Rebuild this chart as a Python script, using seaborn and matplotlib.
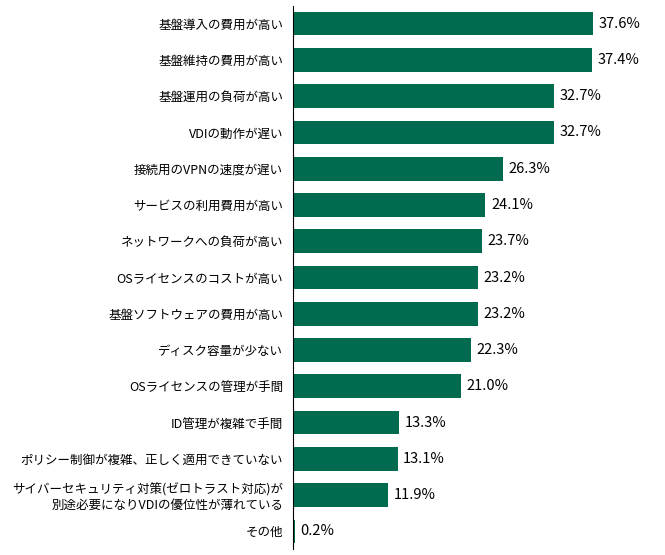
import matplotlib
matplotlib.use("Agg")
import matplotlib.pyplot as plt
import seaborn as sns
import pandas as pd

categories = ["基盤導入の費用が高い", "基盤維持の費用が高い", "基盤運用の負荷が高い", "VDIの動作が遅い",
              "接続用のVPNの速度が遅い", "サービスの利用費用が高い", "ネットワークへの負荷が高い",
              "OSライセンスのコストが高い", "基盤ソフトウェアの費用が高い", "ディスク容量が少ない",
              "OSライセンスの管理が手間", "ID管理が複雑で手間", "ポリシー制御が複雑、正しく適用できていない",
              "サイバーセキュリティ対策(ゼロトラスト対応)が\n別途必要になりVDIの優位性が薄れている", "その他"]
values = [37.6, 37.4, 32.7, 32.7, 26.3, 24.1, 23.7, 23.2, 23.2, 22.3, 21.0, 13.3, 13.1, 11.9, 0.2]

plt.rcParams["font.family"] = "Noto Sans CJK JP"
df = pd.DataFrame({"cat": categories, "val": values})
fig = plt.figure(figsize=(6.65, 5.55), dpi=100)
ax = fig.add_axes([0.4406, 0.01, 0.5594, 0.98])
sns.barplot(data=df, x="val", y="cat", color="#006B4F", saturation=1, width=0.65, ax=ax)
ax.set_xlim(0, 46.6)
ax.set_ylim(len(values) - 0.5, -0.5)
for i, v in enumerate(values):
    ax.text(v + 0.7, i, f"{v:.1f}%", va="center", ha="left", fontsize=10.5)
ax.set_xlabel(""); ax.set_ylabel("")
ax.set_xticks([])
for s in ["top", "right", "bottom"]:
    ax.spines[s].set_visible(False)
ax.spines["left"].set_color("black")
ax.tick_params(axis="y", length=0, labelsize=9, pad=7)
fig.savefig("out.png", dpi=100)
